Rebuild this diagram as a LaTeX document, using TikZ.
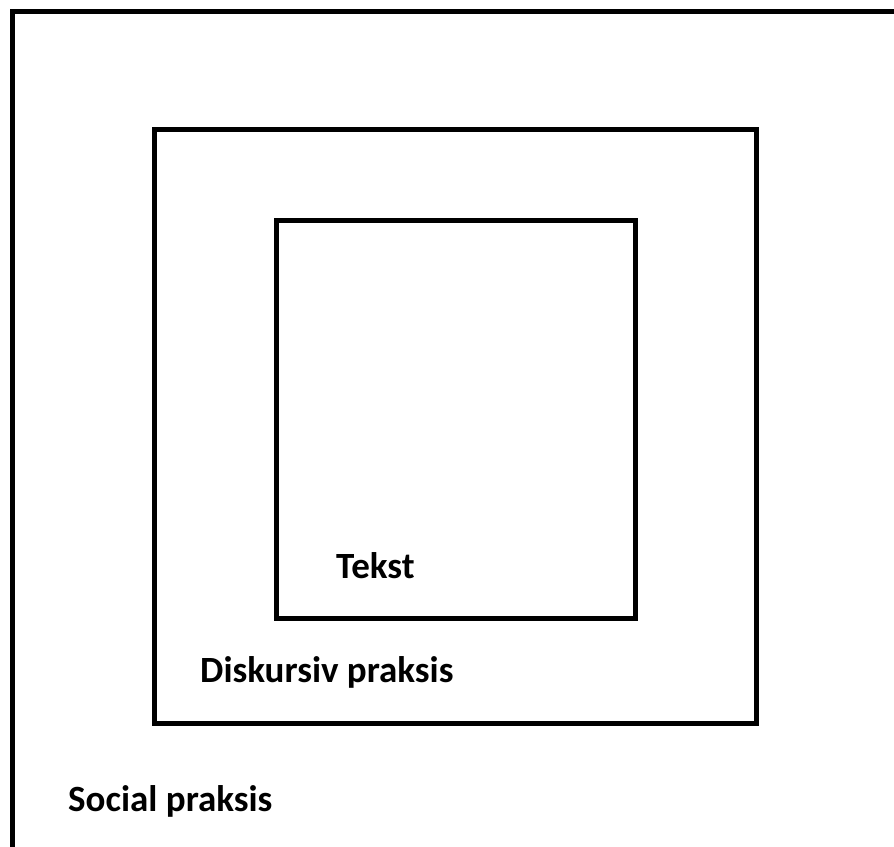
\documentclass[tikz,border=0pt]{standalone}
\usepackage{fontspec}
\setmainfont{Carlito}
\begin{document}
\begin{tikzpicture}[x=1pt,y=-1pt,
  frame/.style={draw=black,line width=5pt,line join=miter},
  lbl/.style={anchor=base west,inner sep=0pt,font=\fontsize{37}{44}\selectfont\bfseries}]
\useasboundingbox (0,0) rectangle (894,846);
\clip (0,0) rectangle (894,846);
\fill[white] (0,0) rectangle (894,846);
\draw[frame] (12,11) rectangle (960,920);
\draw[frame] (154,129) rectangle (756,723);
\draw[frame] (276,220) rectangle (635,618);
\node[lbl] (tekst) at (336,578) {Tekst};
\node[lbl] (disk) at (200,682) {Diskursiv praksis};
\node[lbl] (social) at (68,811) {Social praksis};
\end{tikzpicture}
\end{document}
